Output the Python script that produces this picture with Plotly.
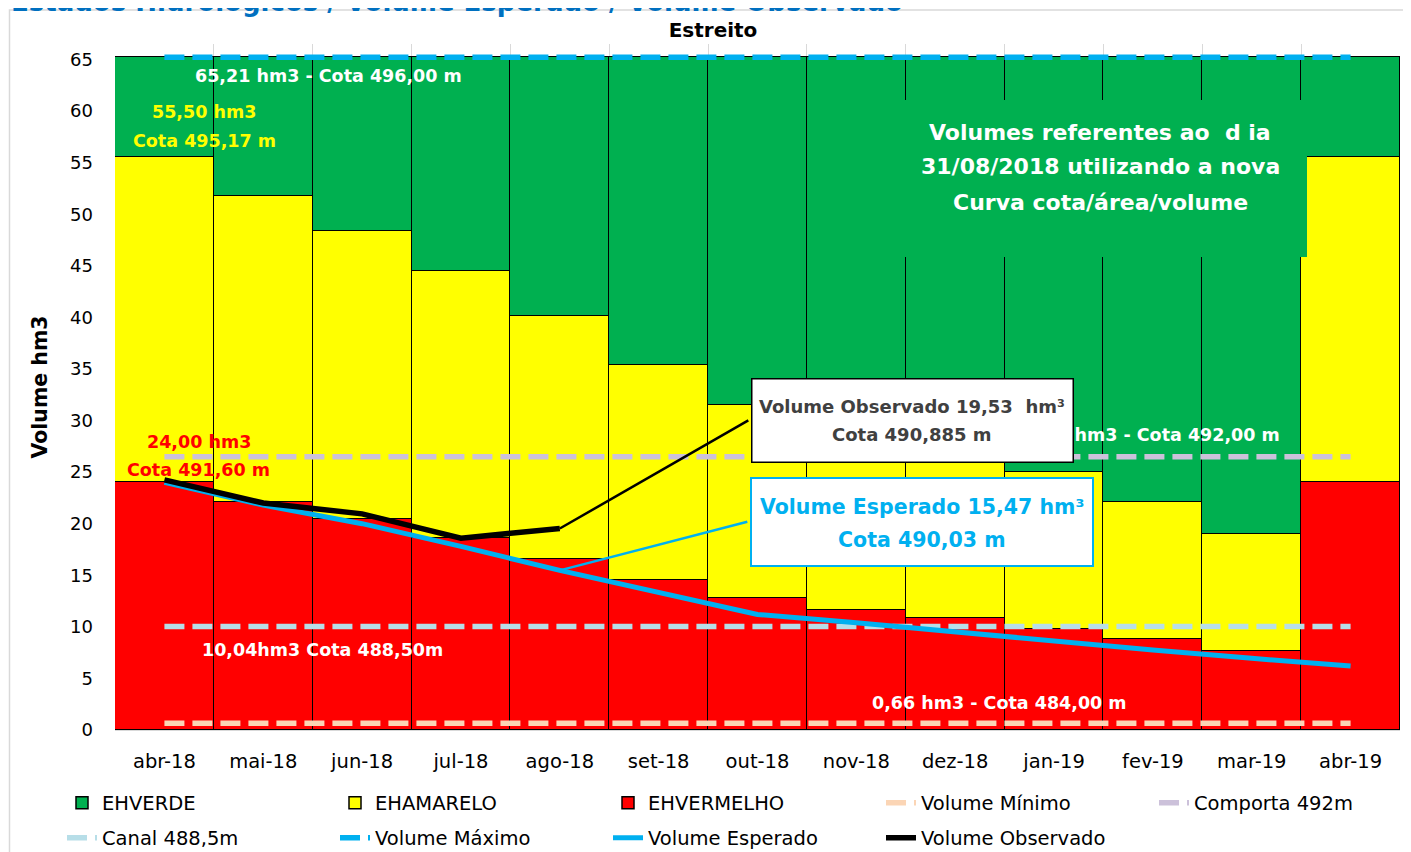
import plotly.graph_objects as go

# ---------------- data ----------------
cats = ["abr-18", "mai-18", "jun-18", "jul-18", "ago-18", "set-18", "out-18",
        "nov-18", "dez-18", "jan-19", "fev-19", "mar-19", "abr-19"]

ehvermelho = [24.0, 22.15, 20.45, 18.65, 16.55, 14.55, 12.75, 11.6, 10.85, 9.8, 8.85, 7.7, 24.0]
ehamarelo = [31.5, 29.65, 27.95, 25.85, 23.55, 20.85, 18.75, 16.9, 15.95, 15.2, 13.3, 11.3, 31.5]
ehverde = [9.71, 13.41, 16.81, 20.71, 25.11, 29.81, 33.71, 36.71, 38.41, 40.21, 43.06, 46.21, 9.71]

vol_esperado = [24.0, 21.8, 20.0, 17.8, 15.47, 13.3, 11.2, 10.4, 9.5, 8.6, 7.75, 6.95, 6.2]
vol_observado = [24.25, 22.0, 20.95, 18.6, 19.53, None, None, None, None, None, None, None, None]

vol_minimo = 0.66
comporta_492 = 26.5
canal_488 = 10.04
vol_maximo = 65.21

FONT = "DejaVu Sans"
n = len(cats)

fig = go.Figure()
bar_line = dict(color="black", width=1.5)
fig.add_bar(x=cats, y=ehvermelho, name="EHVERMELHO", legendrank=3, legend="legend",
            marker=dict(color="#FF0000", line=bar_line))
fig.add_bar(x=cats, y=ehamarelo, name="EHAMARELO", legendrank=2, legend="legend",
            marker=dict(color="#FFFF00", line=bar_line))
fig.add_bar(x=cats, y=ehverde, name="EHVERDE", legendrank=1, legend="legend",
            marker=dict(color="#00B050", line=bar_line))

dash = "20px,8px"
fig.add_scatter(x=cats, y=[vol_minimo] * n, mode="lines", name="Volume Mínimo",
                legendrank=4, legend="legend", line=dict(color="#FBD5B5", width=5.5, dash=dash))
fig.add_scatter(x=cats, y=[comporta_492] * n, mode="lines", name="Comporta 492m",
                legendrank=5, legend="legend", line=dict(color="#CCC1DA", width=5.5, dash=dash))
fig.add_scatter(x=cats, y=[canal_488] * n, mode="lines", name="Canal 488,5m",
                legendrank=6, legend="legend2", line=dict(color="#B7DEE8", width=5.5, dash=dash))
fig.add_scatter(x=cats, y=[vol_maximo] * n, mode="lines", name="Volume Máximo",
                legendrank=7, legend="legend2", line=dict(color="#00B0F0", width=5.5, dash=dash))
fig.add_scatter(x=cats, y=vol_esperado, mode="lines", name="Volume Esperado",
                legendrank=8, legend="legend2", line=dict(color="#00B0F0", width=5))
fig.add_scatter(x=cats, y=vol_observado, mode="lines", name="Volume Observado",
                legendrank=9, legend="legend2", line=dict(color="black", width=5.5))

# page offset of the figure (browser body margin)
OFF = 8


def px2paper_x(px):
    # px: page x coordinate; plot area spans page x 115..1400
    return (px - 115) / 1285.0


def px2paper_y(py):
    # py: page y coordinate; plot area spans page y 44..730
    return (730 - py) / 686.0


def label(x, y, text, size, color, xref="x", yref="y"):
    return dict(x=x, y=y, xref=xref, yref=yref, text=text, showarrow=False,
                xanchor="center", yanchor="middle", font=dict(size=size, color=color, family=FONT))


ann = []
# data labels
ann.append(label(1.655, 63.35, "<b>65,21 hm3 - Cota 496,00 m</b>", 17.5, "white"))
ann.append(label(0.405, 59.95, "<b>55,50 hm3</b>", 17.5, "#FFFF00"))
ann.append(label(0.405, 57.14, "<b>Cota 495,17 m</b>", 17.5, "#FFFF00"))
ann.append(label(0.345, 27.94, "<b>24,00 hm3</b>", 17.5, "#FF0000"))
ann.append(label(0.345, 25.22, "<b>Cota 491,60 m</b>", 17.5, "#FF0000"))
ann.append(label(1.604, 7.76, "<b>10,04hm3 Cota 488,50m</b>", 17.5, "white"))
ann.append(label(8.448, 2.62, "<b>0,66 hm3 - Cota 484,00 m</b>", 17.5, "white"))
ann.append(label(9.94, 28.62, "<b>26,50 hm3 - Cota 492,00 m</b>", 17.5, "white"))

# leader lines
ann.append(dict(x="ago-18", y=vol_observado[4], xref="x", yref="y", text="", showarrow=True,
                arrowhead=0, ax=190, ay=-109, arrowwidth=2.5, arrowcolor="black", standoff=0))
ann.append(dict(x="ago-18", y=vol_esperado[4], xref="x", yref="y", text="", showarrow=True,
                arrowhead=0, ax=189, ay=-49, arrowwidth=2.5, arrowcolor="#00B0F0", standoff=0))


def box(cx, cy, w, h, bg, border, bw):
    return dict(x=px2paper_x(cx), y=px2paper_y(cy), xref="paper", yref="paper", text=" ",
                xanchor="center", yanchor="middle", showarrow=False, width=w, height=h,
                bgcolor=bg, bordercolor=border, borderwidth=bw, borderpad=0)


ann.append(box(912, 420, 320, 82, "white", "black", 1.5))
ann.append(box(921.5, 521.5, 340, 86, "white", "#00B0F0", 2))
ann.append(box(1057.5, 178.5, 499, 157, "#00B050", "rgba(0,0,0,0)", 0))

# box texts
ann.append(label(px2paper_x(911.5), px2paper_y(406), "<b>Volume Observado 19,53  hm³</b>", 18,
                 "#404040", "paper", "paper"))
ann.append(label(px2paper_x(911.5), px2paper_y(435), "<b>Cota 490,885 m</b>", 18,
                 "#404040", "paper", "paper"))
ann.append(label(px2paper_x(922), px2paper_y(507), "<b>Volume Esperado 15,47 hm³</b>", 20.5,
                 "#00B0F0", "paper", "paper"))
ann.append(label(px2paper_x(922), px2paper_y(540), "<b>Cota 490,03 m</b>", 20.5,
                 "#00B0F0", "paper", "paper"))
for txt, py in [("Volumes referentes ao  d ia", 132), ("31/08/2018 utilizando a nova", 167),
                ("Curva cota/área/volume", 202)]:
    ann.append(label(px2paper_x(1100), px2paper_y(py), "<b>" + txt + "</b>", 22, "white",
                     "paper", "paper"))

# cut-off header text at the very top
ann.append(dict(x=px2paper_x(9), y=px2paper_y(2), xref="paper", yref="paper", xanchor="left",
                yanchor="middle", text="<b>Estados Hidrológicos / Volume Esperado / Volume Observado</b>",
                showarrow=False, font=dict(size=26, color="#0070C0", family=FONT)))

shapes = [dict(type="rect", xref="paper", yref="paper", x0=px2paper_x(9.5), x1=px2paper_x(1430),
               y0=px2paper_y(870), y1=px2paper_y(10), line=dict(color="#D9D9D9", width=1.5),
               fillcolor="rgba(0,0,0,0)", layer="below")]

legend_common = dict(orientation="h", xanchor="left", entrywidth=228,
                     entrywidthmode="pixels", font=dict(size=19.5, family=FONT, color="black"),
                     bgcolor="rgba(0,0,0,0)", traceorder="normal", x=px2paper_x(62))

fig.update_layout(
    width=1411 - OFF, height=852 - OFF,
    margin=dict(l=115 - OFF, r=11, t=44 - OFF, b=122, autoexpand=False),
    barmode="stack", bargap=0,
    paper_bgcolor="white", plot_bgcolor="white",
    font=dict(family=FONT, color="black"),
    title=dict(text="<b>Estreito</b>", x=(713 - OFF) / (1411 - OFF), xref="container",
               y=1 - (30 - OFF) / (852 - OFF), yref="container", xanchor="center", yanchor="middle",
               font=dict(size=20, family=FONT, color="black")),
    showlegend=True,
    legend=dict(**legend_common, y=px2paper_y(803), yanchor="middle"),
    legend2=dict(**legend_common, y=px2paper_y(838), yanchor="middle"),
    annotations=ann,
    shapes=shapes,
    xaxis=dict(type="category", range=[-0.5, 12.5], tickfont=dict(size=19.5, family=FONT, color="black"),
               showgrid=True, gridcolor="#D9D9D9", tickson="boundaries", showline=True,
               linecolor="#D9D9D9", ticks="", ticklabelstandoff=14, fixedrange=True,
               automargin=False),
    yaxis=dict(range=[0, 66.5], tick0=0, dtick=5, tickfont=dict(size=18, family=FONT, color="black"),
               showgrid=False, zeroline=False, ticks="", ticklabelstandoff=21, automargin=False,
               title=dict(text="<b>Volume hm3</b>", font=dict(size=20.5, family=FONT, color="black"),
                          standoff=16)),
)

fig.write_html("out.html")
